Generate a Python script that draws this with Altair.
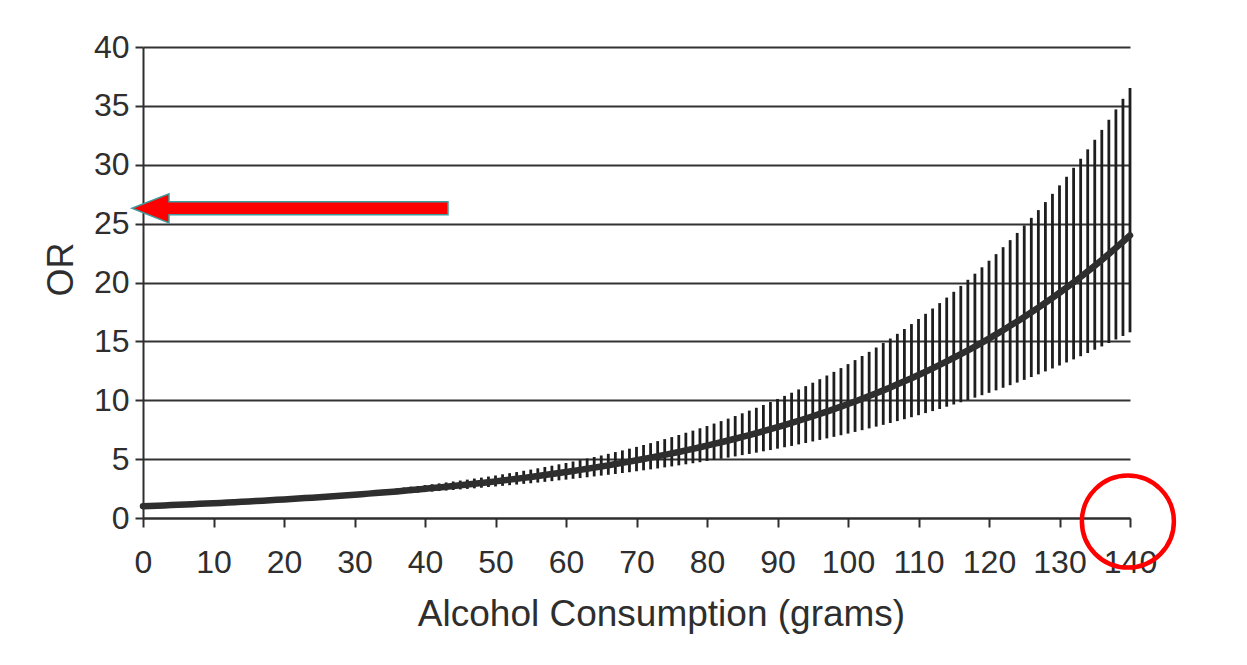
import altair as alt
import pandas as pd

# ---- data ----
GRAMS = list(range(0, 141))

OR_VALUES = [
    1.00, 1.02, 1.05, 1.07, 1.10, 1.12, 1.15, 1.17, 1.20, 1.23,
    1.25, 1.28, 1.31, 1.34, 1.37, 1.41, 1.44, 1.47, 1.50, 1.54,
    1.57, 1.61, 1.65, 1.69, 1.72, 1.76, 1.80, 1.85, 1.89, 1.93,
    1.98, 2.02, 2.07, 2.12, 2.16, 2.21, 2.26, 2.32, 2.37, 2.42,
    2.48, 2.54, 2.59, 2.65, 2.72, 2.78, 2.84, 2.91, 2.97, 3.04,
    3.11, 3.18, 3.26, 3.33, 3.41, 3.49, 3.57, 3.65, 3.73, 3.82,
    3.90, 3.99, 4.09, 4.18, 4.28, 4.37, 4.47, 4.58, 4.68, 4.79,
    4.90, 5.01, 5.13, 5.24, 5.36, 5.49, 5.61, 5.74, 5.87, 6.01,
    6.15, 6.29, 6.43, 6.58, 6.73, 6.89, 7.04, 7.21, 7.37, 7.54,
    7.71, 7.89, 8.07, 8.26, 8.45, 8.64, 8.84, 9.04, 9.25, 9.46,
    9.68, 9.90, 10.13, 10.36, 10.60, 10.84, 11.09, 11.35, 11.61, 11.87,
    12.15, 12.42, 12.71, 13.00, 13.30, 13.61, 13.92, 14.24, 14.56, 14.90,
    15.24, 15.59, 15.95, 16.32, 16.69, 17.07, 17.47, 17.87, 18.28, 18.70,
    19.13, 19.57, 20.01, 20.47, 20.94, 21.43, 21.92, 22.42, 22.94, 23.46,
    24.00,
]

LOWER = [
    1.00, 1.02, 1.04, 1.06, 1.08, 1.10, 1.13, 1.15, 1.17, 1.19,
    1.22, 1.24, 1.27, 1.29, 1.32, 1.34, 1.37, 1.40, 1.43, 1.45,
    1.48, 1.51, 1.54, 1.57, 1.60, 1.64, 1.67, 1.70, 1.74, 1.77,
    1.81, 1.84, 1.88, 1.92, 1.95, 1.99, 2.03, 2.07, 2.11, 2.16,
    2.20, 2.24, 2.29, 2.33, 2.38, 2.43, 2.47, 2.52, 2.57, 2.63,
    2.68, 2.73, 2.79, 2.84, 2.90, 2.95, 3.01, 3.07, 3.13, 3.20,
    3.26, 3.33, 3.39, 3.46, 3.53, 3.60, 3.67, 3.74, 3.82, 3.89,
    3.97, 4.05, 4.13, 4.21, 4.30, 4.38, 4.47, 4.56, 4.65, 4.74,
    4.84, 4.93, 5.03, 5.13, 5.23, 5.34, 5.44, 5.55, 5.66, 5.77,
    5.89, 6.01, 6.12, 6.25, 6.37, 6.50, 6.63, 6.76, 6.89, 7.03,
    7.17, 7.31, 7.46, 7.61, 7.76, 7.91, 8.07, 8.23, 8.39, 8.56,
    8.73, 8.91, 9.08, 9.26, 9.45, 9.64, 9.83, 10.02, 10.22, 10.43,
    10.63, 10.84, 11.06, 11.28, 11.50, 11.73, 11.97, 12.20, 12.45, 12.70,
    12.95, 13.21, 13.47, 13.74, 14.01, 14.29, 14.57, 14.86, 15.16, 15.46,
    15.77,
]

UPPER = [
    1.00, 1.03, 1.05, 1.08, 1.11, 1.14, 1.17, 1.20, 1.23, 1.26,
    1.29, 1.33, 1.36, 1.40, 1.43, 1.47, 1.51, 1.55, 1.59, 1.63,
    1.67, 1.72, 1.76, 1.81, 1.85, 1.90, 1.95, 2.00, 2.05, 2.11,
    2.16, 2.22, 2.28, 2.34, 2.40, 2.46, 2.52, 2.59, 2.66, 2.72,
    2.80, 2.87, 2.94, 3.02, 3.10, 3.18, 3.26, 3.35, 3.43, 3.52,
    3.61, 3.71, 3.81, 3.90, 4.01, 4.11, 4.22, 4.33, 4.44, 4.56,
    4.67, 4.80, 4.92, 5.05, 5.18, 5.31, 5.45, 5.60, 5.74, 5.89,
    6.04, 6.20, 6.36, 6.53, 6.70, 6.87, 7.05, 7.24, 7.42, 7.62,
    7.81, 8.02, 8.23, 8.44, 8.66, 8.89, 9.12, 9.36, 9.60, 9.85,
    10.11, 10.37, 10.64, 10.92, 11.20, 11.49, 11.79, 12.10, 12.41, 12.73,
    13.07, 13.41, 13.76, 14.11, 14.48, 14.86, 15.24, 15.64, 16.05, 16.47,
    16.90, 17.34, 17.79, 18.25, 18.72, 19.21, 19.71, 20.23, 20.75, 21.29,
    21.85, 22.41, 23.00, 23.60, 24.21, 24.84, 25.49, 26.15, 26.83, 27.53,
    28.25, 28.98, 29.74, 30.51, 31.31, 32.12, 32.96, 33.82, 34.70, 35.60,
    36.52,
]

X_TICKS = list(range(0, 141, 10))
Y_TICKS = list(range(0, 41, 5))
X_TITLE = "Alcohol Consumption (grams)"
Y_TITLE = "OR"

# annotation anchors (data units)
ARROW_X = [20.85]
ARROW_Y = [26.3]
CIRCLE_X = [139.7]
CIRCLE_Y = [-0.3]

FONT = "Liberation Sans"
INK = "#2e2e2e"

df = pd.DataFrame({"g": GRAMS, "or": OR_VALUES, "lo": LOWER, "hi": UPPER})
arrow_df = pd.DataFrame({"g": ARROW_X, "or": ARROW_Y})
circle_df = pd.DataFrame({"g": CIRCLE_X, "or": CIRCLE_Y})

xscale = alt.Scale(domain=[0, 140], nice=False, zero=False)
yscale = alt.Scale(domain=[0, 40], nice=False)

xaxis = alt.Axis(
    values=X_TICKS, grid=False, domainColor=INK, domainWidth=2,
    tickColor=INK, tickWidth=2, tickSize=9,
    labelFont=FONT, labelFontSize=32, labelColor=INK, labelBaseline="alphabetic",
    labelPadding=45, labelFlush=False, labelOverlap=False,
    title=X_TITLE, titleFont=FONT, titleFontSize=37, titleFontWeight="normal",
    titleColor=INK, titleX=518, titleY=107, titleAlign="center",
    titleBaseline="alphabetic",
)
yaxis = alt.Axis(
    values=Y_TICKS, grid=True, gridColor="#333333", gridWidth=2.2,
    domainColor=INK, domainWidth=2, tickColor=INK, tickWidth=2, tickSize=8,
    labelFont=FONT, labelFontSize=32, labelColor=INK, labelPadding=6,
    labelOverlap=False,
    title=Y_TITLE, titleFont=FONT, titleFontSize=36, titleFontWeight="normal",
    titleColor=INK, titleX=-71, titleY=222, titleAlign="center",
    titleBaseline="alphabetic", titleAngle=270,
)

X = alt.X("g:Q", scale=xscale, axis=xaxis)

bars = alt.Chart(df).mark_rule(color="#1e1e1e", strokeWidth=2.8).encode(
    x=X,
    y=alt.Y("lo:Q", scale=yscale, axis=yaxis),
    y2="hi:Q",
)

curve = alt.Chart(df).mark_line(color="#2e2e2e", strokeWidth=6.5, strokeCap="round").encode(
    x=X,
    y=alt.Y("or:Q", scale=yscale, axis=yaxis),
)

ARROW_PATH = ("M -1 0 L -0.766 -0.092 L -0.766 -0.041 L 1 -0.041 "
              "L 1 0.041 L -0.766 0.041 L -0.766 0.092 Z")
arrow = alt.Chart(arrow_df).mark_point(
    shape=ARROW_PATH, size=99856, filled=True, fill="#ff0000", fillOpacity=1,
    stroke="#3d9c9c", strokeWidth=1.5, opacity=1,
).encode(
    x=X,
    y=alt.Y("or:Q", scale=yscale, axis=yaxis),
)

circle = alt.Chart(circle_df).mark_point(
    shape="circle", size=8464, filled=False, stroke="#ff0000", strokeWidth=4.5,
    opacity=1,
).encode(
    x=X,
    y=alt.Y("or:Q", scale=yscale, axis=yaxis),
)

chart = alt.layer(bars, curve, arrow, circle).properties(
    width=987, height=471,
    autosize=alt.AutoSizeParams(type="none"),
    padding={"left": 135, "top": 39, "right": 100, "bottom": 130},
    background="white",
).configure_view(stroke=None)

chart.save("out.html", embed_options={"renderer": "svg", "actions": False})
